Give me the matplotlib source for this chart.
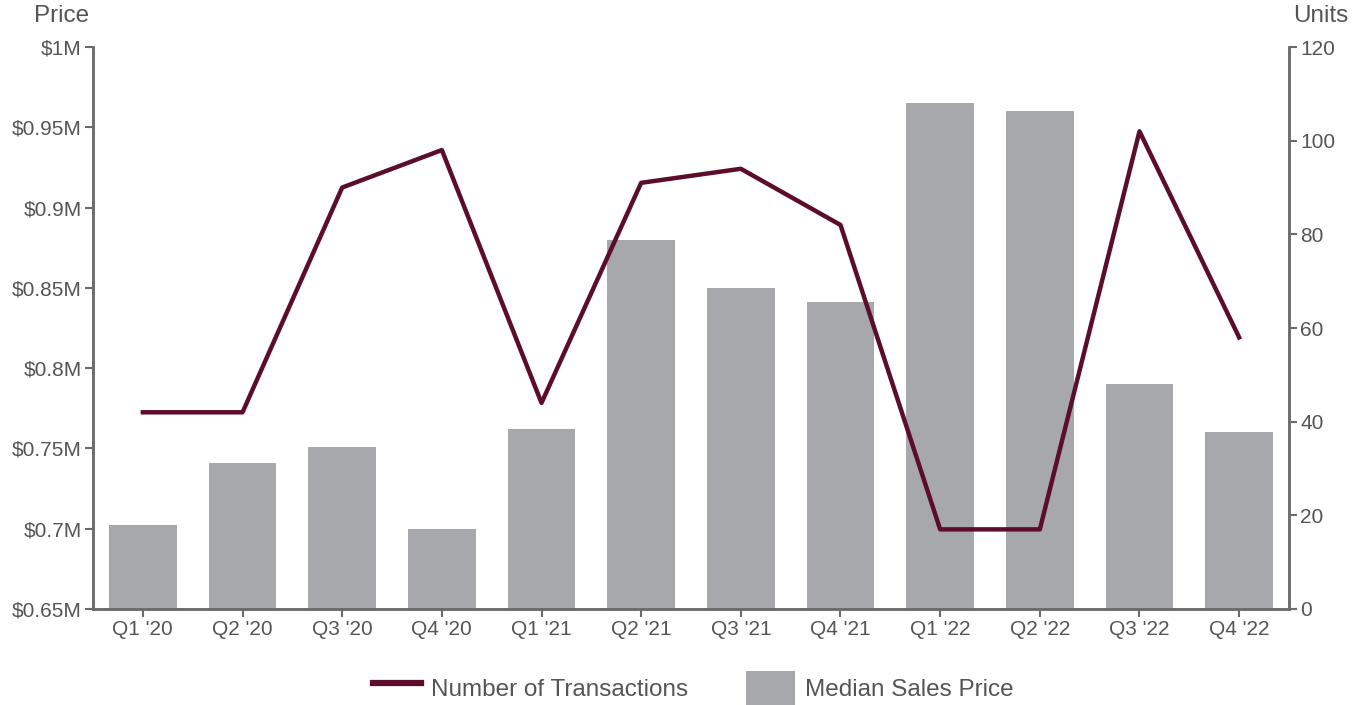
import matplotlib.pyplot as plt
from matplotlib.lines import Line2D
from matplotlib.patches import Patch

plt.rcParams['font.family'] = ['Liberation Sans', 'DejaVu Sans']

quarters = ["Q1 '20", "Q2 '20", "Q3 '20", "Q4 '20", "Q1 '21", "Q2 '21",
            "Q3 '21", "Q4 '21", "Q1 '22", "Q2 '22", "Q3 '22", "Q4 '22"]
median_price = [0.702, 0.741, 0.751, 0.700, 0.762, 0.880,
                0.850, 0.841, 0.965, 0.960, 0.790, 0.760]  # $M
transactions = [42, 42, 90, 98, 44, 91, 94, 82, 17, 17, 102, 58]

price_ticks = [0.65, 0.7, 0.75, 0.8, 0.85, 0.9, 0.95, 1.0]
price_labels = ['$0.65M', '$0.7M', '$0.75M', '$0.8M', '$0.85M', '$0.9M', '$0.95M', '$1M']
unit_ticks = [0, 20, 40, 60, 80, 100, 120]

bar_col = '#a7a8ab'
line_col = '#5c0d2c'
axis_col = '#6b6b6b'
text_col = '#555555'

fig = plt.figure(figsize=(13.64, 7.05), dpi=100)
ax = fig.add_axes([0.0682, 0.1362, 0.8768, 0.7971])
ax2 = ax.twinx()

x = range(len(quarters))
ax.bar(x, median_price, width=0.68, color=bar_col, zorder=1)
ax.set_ylim(0.65, 1.0)
ax.set_xlim(-0.5, len(quarters) - 0.5)
ax.set_yticks(price_ticks)
ax.set_yticklabels(price_labels)
ax.set_xticks(list(x))
ax.set_xticklabels(quarters)

ax2.plot(x, transactions, color=line_col, lw=3.2, zorder=3)
ax2.set_ylim(0, 120)
ax2.set_yticks(unit_ticks)

for a in (ax, ax2):
    a.spines['top'].set_visible(False)
    for s in ('left', 'right', 'bottom'):
        a.spines[s].set_color(axis_col)
        a.spines[s].set_linewidth(1.8)
    a.tick_params(colors=axis_col, labelcolor=text_col, labelsize=15,
                  width=1.5, length=6, pad=2)

fig.text(0.0655, 0.977, 'Price', ha='right', va='center', fontsize=17.5, color=text_col)
fig.text(0.948, 0.977, 'Units', ha='left', va='center', fontsize=17.5, color=text_col)

handles = [Line2D([0], [0], color=line_col, lw=4.5),
           Patch(facecolor=bar_col, edgecolor='none')]
fig.legend(handles, ['Number of Transactions', 'Median Sales Price'],
           loc='center', bbox_to_anchor=(0.508, 0.024), ncol=2, frameon=False,
           fontsize=17.5, labelcolor=text_col, handlelength=2.0, handleheight=1.8,
           columnspacing=2.4, handletextpad=0.4, borderpad=0)

fig.savefig('out.png', dpi=100)
